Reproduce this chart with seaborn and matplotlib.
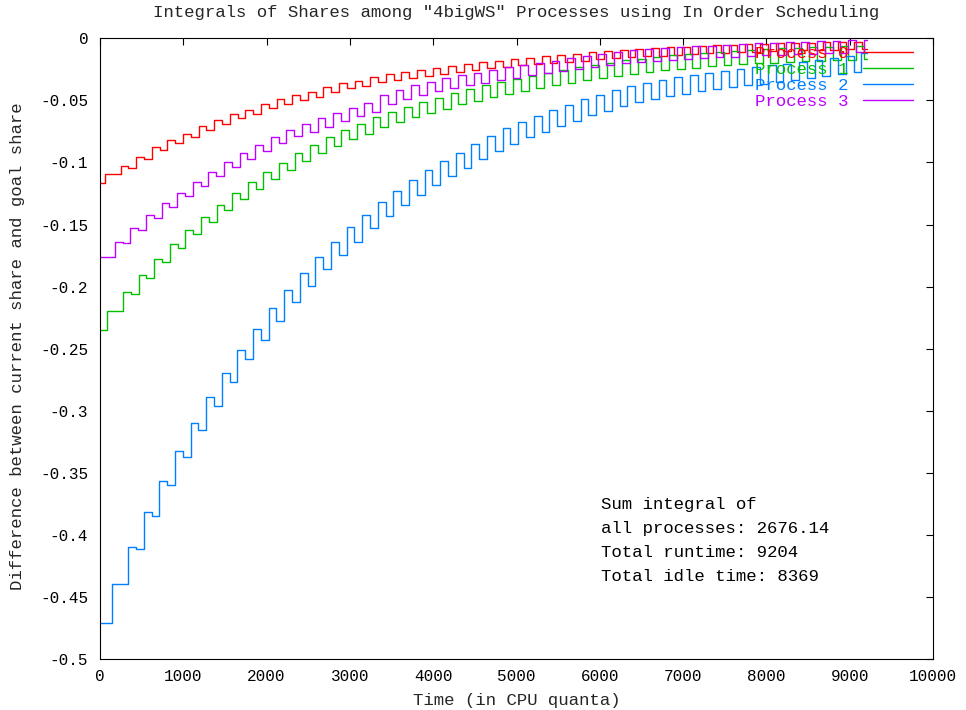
import matplotlib
matplotlib.use("Agg")
import matplotlib.pyplot as plt
import numpy as np
import pandas as pd
import seaborn as sns

# ---------------------------------------------------------------- data
processes = ["Process 0", "Process 1", "Process 2", "Process 3"]
colors = ["#ff0000", "#00c000", "#0080ff", "#c000ff"]

round_length = 187.3          # CPU quanta in one in-order scheduling round
total_runtime = 9204
first_jump = [60, 88, 150, 178]               # time of each process' first run
start_value = [-0.1168, -0.2349, -0.4705, -0.1763]

# value right after each run of the process, and just before its next run
p0_peak = [-0.1090, -0.1026, -0.0953, -0.0878, -0.0819, -0.0770, -0.0706, -0.0658,
           -0.0612, -0.0577, -0.0529, -0.0491, -0.0458, -0.0430, -0.0395, -0.0362,
           -0.0341, -0.0309, -0.0290, -0.0272, -0.0255, -0.0238, -0.0222, -0.0207,
           -0.0193, -0.0180, -0.0167, -0.0155, -0.0144, -0.0133, -0.0123, -0.0113,
           -0.0104, -0.0095, -0.0087, -0.0080, -0.0073, -0.0067, -0.0061, -0.0056,
           -0.0051, -0.0047, -0.0043, -0.0040, -0.0037, -0.0034, -0.0031, -0.0029,
           -0.0027]
p0_low = [-0.1095, -0.1041, -0.0973, -0.0900, -0.0844, -0.0797, -0.0735, -0.0689,
          -0.0645, -0.0612, -0.0565, -0.0528, -0.0496, -0.0469, -0.0435, -0.0403,
          -0.0383, -0.0352, -0.0334, -0.0317, -0.0301, -0.0285, -0.0270, -0.0256,
          -0.0243, -0.0231, -0.0219, -0.0208, -0.0198, -0.0188, -0.0179, -0.0170,
          -0.0162, -0.0153, -0.0146, -0.0139, -0.0133, -0.0127, -0.0121, -0.0116,
          -0.0111, -0.0107, -0.0103, -0.0100, -0.0097, -0.0094, -0.0091, -0.0089,
          -0.0087]

p1_peak = [-0.2196, -0.2040, -0.1906, -0.1780, -0.1660, -0.1544, -0.1440, -0.1340,
           -0.1245, -0.1160, -0.1078, -0.1001, -0.0926, -0.0859, -0.0795, -0.0738,
           -0.0690, -0.0635, -0.0591, -0.0550, -0.0512, -0.0478, -0.0443, -0.0411,
           -0.0380, -0.0350, -0.0325, -0.0300, -0.0276, -0.0255, -0.0235, -0.0215,
           -0.0195, -0.0178, -0.0163, -0.0150, -0.0138, -0.0127, -0.0117, -0.0108,
           -0.0100, -0.0093, -0.0087, -0.0081, -0.0076, -0.0071, -0.0067, -0.0063,
           -0.0060]
p1_low = [-0.2196, -0.2060, -0.1928, -0.1805, -0.1688, -0.1577, -0.1478, -0.1383,
          -0.1291, -0.1210, -0.1132, -0.1059, -0.0988, -0.0925, -0.0865, -0.0812,
          -0.0767, -0.0715, -0.0673, -0.0634, -0.0598, -0.0566, -0.0533, -0.0503,
          -0.0474, -0.0446, -0.0423, -0.0400, -0.0377, -0.0357, -0.0338, -0.0319,
          -0.0300, -0.0284, -0.0270, -0.0258, -0.0246, -0.0236, -0.0226, -0.0217,
          -0.0209, -0.0202, -0.0196, -0.0190, -0.0185, -0.0180, -0.0176, -0.0172,
          -0.0170]

p2_peak = [-0.4394, -0.4093, -0.3811, -0.3564, -0.3323, -0.3100, -0.2886, -0.2692,
           -0.2510, -0.2340, -0.2174, -0.2026, -0.1892, -0.1763, -0.1637, -0.1522,
           -0.1423, -0.1315, -0.1227, -0.1141, -0.1060, -0.0985, -0.0921, -0.0851,
           -0.0787, -0.0725, -0.0671, -0.0626, -0.0577, -0.0537, -0.0491, -0.0456,
           -0.0416, -0.0384, -0.0360, -0.0336, -0.0315, -0.0295, -0.0278, -0.0262,
           -0.0247, -0.0232, -0.0218, -0.0203, -0.0188, -0.0172, -0.0156, -0.0140,
           -0.0120]
p2_low = [-0.4394, -0.4115, -0.3850, -0.3597, -0.3369, -0.3154, -0.2960, -0.2765,
          -0.2585, -0.2430, -0.2273, -0.2125, -0.1994, -0.1860, -0.1745, -0.1637,
          -0.1530, -0.1430, -0.1345, -0.1260, -0.1180, -0.1105, -0.1042, -0.0973,
          -0.0910, -0.0850, -0.0797, -0.0753, -0.0705, -0.0665, -0.0620, -0.0586,
          -0.0547, -0.0515, -0.0492, -0.0468, -0.0447, -0.0428, -0.0411, -0.0395,
          -0.0380, -0.0365, -0.0351, -0.0336, -0.0321, -0.0305, -0.0289, -0.0273,
          -0.0255]

p3_peak = [-0.1638, -0.1530, -0.1422, -0.1329, -0.1243, -0.1154, -0.1074, -0.0999,
           -0.0926, -0.0859, -0.0797, -0.0738, -0.0693, -0.0644, -0.0599, -0.0560,
           -0.0518, -0.0456, -0.0416, -0.0378, -0.0349, -0.0322, -0.0296, -0.0276,
           -0.0255, -0.0234, -0.0215, -0.0196, -0.0180, -0.0162, -0.0145, -0.0128,
           -0.0112, -0.0098, -0.0088, -0.0080, -0.0072, -0.0065, -0.0058, -0.0052,
           -0.0046, -0.0041, -0.0036, -0.0031, -0.0027, -0.0023, -0.0019, -0.0015,
           -0.0010]
p3_low = [-0.1651, -0.1543, -0.1449, -0.1356, -0.1270, -0.1189, -0.1109, -0.1039,
          -0.0974, -0.0905, -0.0845, -0.0786, -0.0752, -0.0711, -0.0663, -0.0622,
          -0.0590, -0.0530, -0.0492, -0.0455, -0.0427, -0.0401, -0.0376, -0.0357,
          -0.0337, -0.0317, -0.0299, -0.0281, -0.0266, -0.0249, -0.0233, -0.0217,
          -0.0202, -0.0189, -0.0180, -0.0173, -0.0166, -0.0160, -0.0154, -0.0148,
          -0.0143, -0.0138, -0.0134, -0.0130, -0.0126, -0.0122, -0.0118, -0.0114,
          -0.0110]

peaks = [p0_peak, p1_peak, p2_peak, p3_peak]
lows = [p0_low, p1_low, p2_low, p3_low]

x_ticks = [0, 1000, 2000, 3000, 4000, 5000, 6000, 7000, 8000, 9000, 10000]
y_ticks = [0, -0.05, -0.1, -0.15, -0.2, -0.25, -0.3, -0.35, -0.4, -0.45, -0.5]

summary_lines = ["Sum integral of",
                 "all processes: 2676.14",
                 "Total runtime: 9204",
                 "Total idle time: 8369"]

# --------------------------------------------- step series per process
frames = []
for i, name in enumerate(processes):
    t = [0.0]
    v = [start_value[i]]
    for k, (hi, lo) in enumerate(zip(peaks[i], lows[i])):
        t_run = first_jump[i] + k * round_length
        t_mid = t_run + 0.5 * round_length
        t.append(t_run)
        v.append(hi)
        if t_mid < total_runtime:
            t.append(t_mid)
            v.append(lo)
    t.append(total_runtime)
    v.append(v[-1])
    frames.append(pd.DataFrame({"time": t, "diff": v, "process": name}))
df = pd.concat(frames, ignore_index=True)

# ---------------------------------------------------------------- style
sns.set_style("white")
plt.rcParams["font.family"] = ["Liberation Mono", "DejaVu Sans Mono"]
plt.rcParams["axes.edgecolor"] = "black"
plt.rcParams["axes.linewidth"] = 0.8
FS_TICK = 11.5
FS_TEXT = 12.5

fig = plt.figure(figsize=(9.66, 7.10), dpi=100)
ax = fig.add_axes([100 / 966, 1 - 659.3 / 710, 833 / 966, 621 / 710])

sns.lineplot(data=df, x="time", y="diff", hue="process", hue_order=processes,
             palette=colors, drawstyle="steps-post", estimator=None, sort=False,
             legend=False, linewidth=1.0, ax=ax)

ax.set_xlim(0, 10000)
ax.set_ylim(-0.5, 0)
ax.set_xticks(x_ticks)
ax.set_xticklabels([f"{x:g}" for x in x_ticks])
ax.set_yticks(y_ticks)
ax.set_yticklabels([f"{y:g}" for y in y_ticks])
ax.tick_params(axis="both", direction="in", length=5, width=0.8, colors="black",
               top=True, right=True, labelsize=FS_TICK)
ax.tick_params(axis="y", pad=8.5)
ax.tick_params(axis="x", pad=7)
ax.set_xlabel("")
ax.set_ylabel("")
for s in ax.spines.values():
    s.set_visible(True)
    s.set_color("black")
    s.set_linewidth(0.8)

leg = ax.legend(ax.lines[:4], processes, loc="upper right",
                bbox_to_anchor=(0.976, 0.988), frameon=False, markerfirst=False,
                fontsize=FS_TEXT, handlelength=2.9, handletextpad=0.85,
                labelspacing=0.05, borderpad=0, borderaxespad=0,
                labelcolor="linecolor")

for j, line in enumerate(summary_lines):
    ax.text(6010, -0.375 - j * 0.0195, line, fontsize=FS_TEXT, ha="left",
            va="center", color="black")

fig.text(516.5 / 966, 1 - 12 / 710,
         'Integrals of Shares among "4bigWS" Processes using In Order Scheduling',
         ha="center", va="center", fontsize=FS_TEXT)
fig.text(516.5 / 966, 1 - 700 / 710, "Time (in CPU quanta)",
         ha="center", va="center", fontsize=FS_TEXT)
fig.text(18 / 966, 1 - 346 / 710, "Difference between current share and goal share",
         ha="center", va="center", rotation=90, fontsize=FS_TEXT)

fig.savefig("out.png", dpi=100, facecolor="white")
